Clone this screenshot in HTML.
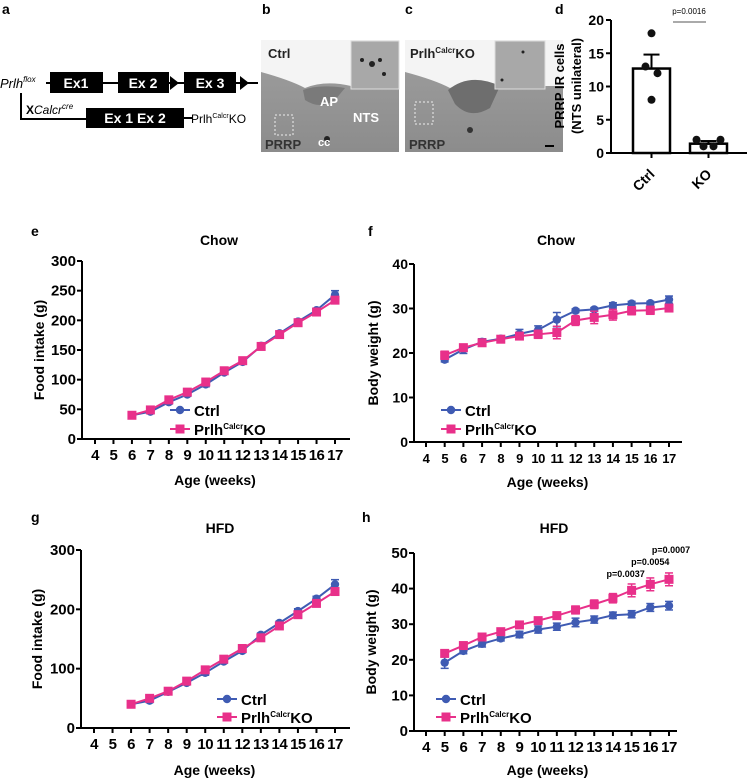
<!DOCTYPE html>
<html><head><meta charset="utf-8"><style>
html,body{margin:0;padding:0;background:#fff;}
svg{display:block;font-family:"Liberation Sans",Arial,sans-serif;}
</style></head><body>
<svg id="fig" width="748" height="779" viewBox="0 0 748 779" xmlns="http://www.w3.org/2000/svg">
<defs>
<linearGradient id="tis" x1="0" y1="0" x2="0" y2="1"><stop offset="0" stop-color="#9a9a9a"/><stop offset="1" stop-color="#8c8c8c"/></linearGradient>
</defs>
<g font-weight="bold" font-size="14">
<text x="2" y="14">a</text>
<text x="262" y="14">b</text>
<text x="405" y="14">c</text>
<text x="555" y="14">d</text>
<text x="31" y="236">e</text>
<text x="368" y="236">f</text>
<text x="31" y="522">g</text>
<text x="362" y="522">h</text>
</g>
<g>
<text x="0" y="88" font-size="13" font-style="italic">Prlh<tspan font-size="8" dy="-6">flox</tspan></text>
<line x1="46" y1="83" x2="258" y2="83" stroke="#000" stroke-width="2"/>
<rect x="50" y="72" width="53" height="21" fill="#000"/>
<text x="76" y="88" fill="#fff" font-size="14" font-weight="bold" text-anchor="middle">Ex1</text>
<rect x="118" y="72" width="51" height="21" fill="#000"/>
<text x="143" y="88" fill="#fff" font-size="14" font-weight="bold" text-anchor="middle">Ex 2</text>
<polygon points="170,76 179,83 170,90" fill="#000"/>
<rect x="184" y="72" width="52" height="21" fill="#000"/>
<text x="210" y="88" fill="#fff" font-size="14" font-weight="bold" text-anchor="middle">Ex 3</text>
<polygon points="240,76 249,83 240,90" fill="#000"/>
<polyline points="21,93 21,119 86,119" fill="none" stroke="#000" stroke-width="2"/>
<text x="26" y="114" font-size="12"><tspan font-weight="bold">X</tspan><tspan font-style="italic">Calcr</tspan><tspan font-style="italic" font-size="8" dy="-5">cre</tspan></text>
<rect x="86" y="108" width="98" height="20" fill="#000"/>
<text x="135" y="123" fill="#fff" font-size="14" font-weight="bold" text-anchor="middle">Ex 1  Ex 2</text>
<line x1="184" y1="118" x2="192" y2="118" stroke="#000" stroke-width="2"/>
<text x="191" y="123" font-size="12">Prlh<tspan font-size="7" dy="-5">Calcr</tspan><tspan dy="5">KO</tspan></text>
</g>
<g>
<rect x="261" y="40" width="138" height="112" fill="#f4f4f4"/>
<path d="M261,72 Q290,80 305,88 Q325,80 351,86 L399,86 L399,152 L261,152 Z" fill="url(#tis)"/>
<path d="M303,90 Q320,84 345,88 L335,100 Q320,110 305,100 Z" fill="#7a7a7a"/>
<rect x="351" y="41" width="48" height="48" fill="#a8a8a8" stroke="#ddd"/>
<g fill="#222"><circle cx="362" cy="60" r="2"/><circle cx="372" cy="64" r="3"/><circle cx="380" cy="60" r="2"/><circle cx="384" cy="74" r="2"/></g>
<rect x="275" y="115" width="18" height="20" fill="none" stroke="#eee" stroke-dasharray="2,2"/>
<circle cx="327" cy="139" r="3" fill="#222"/>
<g font-weight="bold" font-size="13">
<text x="268" y="58" fill="#222">Ctrl</text>
<text x="320" y="106" fill="#fff">AP</text>
<text x="353" y="122" fill="#fff">NTS</text>
<text x="318" y="146" fill="#fff" font-size="11">cc</text>
<text x="265" y="149" fill="#333">PRRP</text>
</g>
</g>
<g>
<rect x="405" y="40" width="158" height="112" fill="#f4f4f4"/>
<path d="M405,72 Q435,80 450,88 Q472,78 495,86 L563,86 L563,152 L405,152 Z" fill="url(#tis)"/>
<path d="M448,90 Q470,72 500,86 L490,108 Q470,120 455,104 Z" fill="#6e6e6e"/>
<rect x="495" y="41" width="50" height="48" fill="#a8a8a8" stroke="#ddd"/>
<circle cx="523" cy="52" r="1.5" fill="#222"/><circle cx="502" cy="80" r="1.5" fill="#222"/>
<rect x="415" y="102" width="18" height="22" fill="none" stroke="#eee" stroke-dasharray="2,2"/>
<circle cx="470" cy="130" r="3" fill="#333"/>
<line x1="545" y1="146" x2="554" y2="146" stroke="#000" stroke-width="2"/>
<g font-weight="bold" font-size="13">
<text x="410" y="58" fill="#222">Prlh<tspan font-size="8" dy="-5">Calcr</tspan><tspan dy="5">KO</tspan></text>
<text x="409" y="149" fill="#333">PRRP</text>
</g>
</g>
<g id="panelD"></g>
<g id="panelE"></g>
<g id="panelF"></g>
<g id="panelG"></g>
<g id="panelH"></g>
</svg>
<script>
const NS="http://www.w3.org/2000/svg";
const BLUE="#3f5bb3", PINK="#e8308a";
const dGroups=["Ctrl","KO"];
const dMeans=[12.7,1.4];
const dSem=[2.1,0.4];
const dDotsCtrl=[18,13,12,8];
const dDotsKO=[2,1,1,2];
const dTicks=[0,5,10,15,20];
const weeksFI=[6,7,8,9,10,11,12,13,14,15,16,17];
const eCtrl=[40,46,62,75,92,112,130,157,178,198,217,243];
const eCtrlErr=[3,3,3,3,4,3,3,3,3,3,3,7];
const eKO=[40,49,66,79,96,115,132,156,176,196,214,234];
const eKOErr=[3,3,3,3,3,3,3,3,3,4,4,5];
const weeksBW=[5,6,7,8,9,10,11,12,13,14,15,16,17];
const fCtrl=[18.5,20.8,22.5,23.2,24.3,25.2,27.5,29.5,29.8,30.7,31.1,31.2,32.0];
const fCtrlErr=[0.5,0.9,0.7,0.6,1.0,0.9,1.6,0.4,0.4,0.6,0.5,0.4,0.8];
const fKO=[19.5,21.2,22.3,23.1,23.8,24.2,24.6,27.3,28.0,28.6,29.5,29.6,30.1];
const fKOErr=[0.9,0.6,0.6,0.7,0.6,0.9,1.4,1.1,1.4,1.2,0.9,0.9,0.7];
const gCtrl=[40,46,61,76,93,112,130,157,177,197,218,242];
const gCtrlErr=[3,3,3,3,4,3,3,3,3,4,4,8];
const gKO=[40,50,62,79,98,116,134,152,172,191,210,230];
const gKOErr=[3,3,4,4,4,4,4,4,4,4,4,5];
const hCtrl=[19.2,22.5,24.5,26.0,27.1,28.5,29.3,30.5,31.3,32.5,32.8,34.7,35.2];
const hCtrlErr=[1.6,0.8,0.9,0.7,0.9,1.0,1.0,1.2,1.0,0.9,1.0,1.1,1.2];
const hKO=[21.8,24.0,26.4,27.9,29.8,31.0,32.4,34.0,35.6,37.3,39.5,41.2,42.6];
const hKOErr=[0.6,0.7,0.8,0.7,0.8,0.9,1.0,1.1,1.2,1.3,1.8,1.8,1.8];
const hPvals=["p=0.0037","p=0.0054","p=0.0007"];
const hPweeks=[15,16,17];
const xTickWeeks=[4,5,6,7,8,9,10,11,12,13,14,15,16,17];
const fiTicksE=[0,50,100,150,200,250,300];
const fiTicksG=[0,100,200,300];
const bwTicksF=[0,10,20,30,40];
const bwTicksH=[0,10,20,30,40,50];

function mk(tag,attrs,parent){const e=document.createElementNS(NS,tag);for(const k in attrs)e.setAttribute(k,attrs[k]);if(parent)parent.appendChild(e);return e;}

(function(){
  const g=document.getElementById('panelD');
  const x0=611,yB=153,yT=20,xEnd=747;
  const y=v=>yB-(v/20)*(yB-yT);
  const centers=[651.5,708.5], bw=37;
  mk('line',{x1:x0,y1:yT,x2:x0,y2:yB+1,stroke:'#000','stroke-width':2},g);
  mk('line',{x1:x0,y1:yB,x2:xEnd,y2:yB,stroke:'#000','stroke-width':2},g);
  dTicks.forEach(t=>{
    mk('line',{x1:x0-5,y1:y(t),x2:x0,y2:y(t),stroke:'#000','stroke-width':2},g);
    const tx=mk('text',{x:x0-7,y:y(t)+5,'text-anchor':'end','font-size':14,'font-weight':'bold'},g);tx.textContent=t;
    
    
  });
  dGroups.forEach((n,i)=>{
    const cx=centers[i];
    const r=mk('rect',{x:cx-bw/2,y:y(dMeans[i]),width:bw,height:yB-y(dMeans[i]),fill:'#fff',stroke:'#000','stroke-width':2.5},g);
    
    
    mk('line',{x1:cx,y1:y(dMeans[i]),x2:cx,y2:y(dMeans[i]+dSem[i]),stroke:'#000','stroke-width':2},g);
    mk('line',{x1:cx-8,y1:y(dMeans[i]+dSem[i]),x2:cx+8,y2:y(dMeans[i]+dSem[i]),stroke:'#000','stroke-width':2},g);
    mk('line',{x1:cx,y1:yB,x2:cx,y2:yB+5,stroke:'#000','stroke-width':2},g);
    const lt=mk('text',{x:cx+4,y:yB+22,'text-anchor':'end','font-size':14,'font-weight':'bold',transform:`rotate(-45 ${cx+4} ${yB+22})`},g);
    lt.textContent=n;
    
    
    const dots=i===0?dDotsCtrl:dDotsKO;
    const offsKO=[-12,-5,5,12];
    dots.forEach((v,j)=>{
      const c=mk('circle',{cx:cx+(i===0?[0,-6,6,0][j]:offsKO[j]),cy:y(v),r:4,fill:'#111'},g);
      
      
    });
  });
  mk('line',{x1:673,y1:22,x2:706,y2:22,stroke:'#555','stroke-width':1},g);
  const p=mk('text',{x:689,y:14,'text-anchor':'middle','font-size':8},g);p.textContent='p=0.0016';
  
  
  const t=mk('text',{transform:'translate(564,86) rotate(-90)','text-anchor':'middle','font-size':13,'font-weight':'bold'},g);
  t.textContent='PRRP IR cells';
  
  
  const t2=mk('text',{transform:'translate(581,86) rotate(-90)','text-anchor':'middle','font-size':13,'font-weight':'bold'},g);
  t2.textContent='(NTS unilateral)';
  
  
})();

function lineChart(id,o){
  const g=document.getElementById(id);
  const xs=w=>o.w4+(w-4)*(o.w17-o.w4)/13;
  const ys=v=>o.yB-(v/o.ymax)*(o.yB-o.yT);
  mk('line',{x1:o.ax,y1:o.yT,x2:o.ax,y2:o.yB+1,stroke:'#000','stroke-width':2},g);
  mk('line',{x1:o.ax,y1:o.yB,x2:o.xEnd,y2:o.yB,stroke:'#000','stroke-width':2},g);
  o.yTicks.forEach(t=>{
    mk('line',{x1:o.ax-5,y1:ys(t),x2:o.ax,y2:ys(t),stroke:'#000','stroke-width':2},g);
    const tx=mk('text',{x:o.ax-6,y:ys(t)+5,'text-anchor':'end','font-size':o.tfs,'font-weight':'bold'},g);tx.textContent=t;
    
    
  });
  xTickWeeks.forEach(w=>{
    mk('line',{x1:xs(w),y1:o.yB,x2:xs(w),y2:o.yB+5,stroke:'#000','stroke-width':2},g);
    const tx=mk('text',{x:xs(w),y:o.yB+21,'text-anchor':'middle','font-size':o.xfs,'font-weight':'bold','letter-spacing':'-0.5'},g);tx.textContent=w;
    
    
  });
  const tt=mk('text',{x:o.titleX,y:o.titleY,'text-anchor':'middle','font-size':14,'font-weight':'bold'},g);tt.textContent=o.title;
  
  
  const xt=mk('text',{x:(o.w4+o.w17)/2,y:o.xTitleY,'text-anchor':'middle','font-size':14,'font-weight':'bold'},g);xt.textContent='Age (weeks)';
  
  
  const yt=mk('text',{transform:`translate(${o.yTitleX},${(o.yT+o.yB)/2}) rotate(-90)`,'text-anchor':'middle','font-size':14,'font-weight':'bold'},g);yt.textContent=o.yTitle;
  
  
  const series=[[o.ctrl,o.ctrlErr,BLUE,'circle','ctrl'],[o.ko,o.koErr,PINK,'square','ko']];
  series.forEach(([vals,errs,col,shape,nm])=>{
    const pts=vals.map((v,i)=>[xs(o.weeks[i]),ys(v)]);
    const pl=mk('polyline',{points:pts.map(p=>p.join(',')).join(' '),fill:'none',stroke:col,'stroke-width':2},g);
    
    
    vals.forEach((v,i)=>{
      const x=xs(o.weeks[i]);
      const y1=ys(v+errs[i]),y2=ys(v-errs[i]);
      mk('line',{x1:x,y1:y1,x2:x,y2:y2,stroke:col,'stroke-width':1.5},g);
      mk('line',{x1:x-4,y1:y1,x2:x+4,y2:y1,stroke:col,'stroke-width':1.5},g);
      mk('line',{x1:x-4,y1:y2,x2:x+4,y2:y2,stroke:col,'stroke-width':1.5},g);
      let m;
      if(shape==='circle') m=mk('circle',{cx:x,cy:ys(v),r:4.2,fill:col},g);
      else m=mk('rect',{x:x-4.5,y:ys(v)-4.5,width:9,height:9,fill:col},g);
      
      
    });
  });
  [[BLUE,'circle','Ctrl',o.legY1],[PINK,'square','KO',o.legY2]].forEach(([col,shape,lab,ly])=>{
    const lg=mk('g',{},g);
    
    
    mk('line',{x1:o.legX-10,y1:ly,x2:o.legX+10,y2:ly,stroke:col,'stroke-width':2},lg);
    if(shape==='circle') mk('circle',{cx:o.legX,cy:ly,r:4.2,fill:col},lg);
    else mk('rect',{x:o.legX-4.5,y:ly-4.5,width:9,height:9,fill:col},lg);
    const t=mk('text',{x:o.legX+14,y:ly+6,'font-size':15,'font-weight':'bold'},lg);
    if(lab==='Ctrl') t.textContent='Ctrl';
    else { t.appendChild(document.createTextNode('Prlh'));
      const s=mk('tspan',{'font-size':8,dy:-6},t);s.textContent='Calcr';
      const k=mk('tspan',{dy:6},t);k.textContent='KO'; }
  });
  if(o.pvals){
    const dx=[-6,0,2], dy=[7,13,20];
    o.pvals.forEach((p,i)=>{
      const w=o.pweeks[i];
      const k=o.weeks.indexOf(w);
      const v=o.ko[k]+o.koErr[k];
      const t=mk('text',{x:xs(w)+dx[i],y:ys(v)-dy[i],'text-anchor':'middle','font-size':9,'font-weight':'bold'},g);
      t.textContent=p;
      
      
    });
  }
}
lineChart('panelE',{ax:82,yT:261,yB:439,ymax:300,w4:95,w17:335,xEnd:350,yTicks:fiTicksE,tfs:15,xfs:15,
  weeks:weeksFI,ctrl:eCtrl,ctrlErr:eCtrlErr,ko:eKO,koErr:eKOErr,title:'Chow',titleX:219,titleY:245,
  xTitleY:485,yTitleX:44,yTitle:'Food intake (g)',legX:180,legY1:410,legY2:429});
lineChart('panelF',{ax:414,yT:264,yB:442,ymax:40,w4:426,w17:669,xEnd:682,yTicks:bwTicksF,tfs:14,xfs:13,
  weeks:weeksBW,ctrl:fCtrl,ctrlErr:fCtrlErr,ko:fKO,koErr:fKOErr,title:'Chow',titleX:556,titleY:245,
  xTitleY:487,yTitleX:378,yTitle:'Body weight (g)',legX:451,legY1:410,legY2:429});
lineChart('panelG',{ax:81,yT:550,yB:728,ymax:300,w4:94,w17:335,xEnd:350,yTicks:fiTicksG,tfs:15,xfs:15,
  weeks:weeksFI,ctrl:gCtrl,ctrlErr:gCtrlErr,ko:gKO,koErr:gKOErr,title:'HFD',titleX:220,titleY:533,
  xTitleY:775,yTitleX:42,yTitle:'Food intake (g)',legX:227,legY1:699,legY2:717});
lineChart('panelH',{ax:414,yT:553,yB:731,ymax:50,w4:426,w17:669,xEnd:677,yTicks:bwTicksH,tfs:15,xfs:15,
  weeks:weeksBW,ctrl:hCtrl,ctrlErr:hCtrlErr,ko:hKO,koErr:hKOErr,title:'HFD',titleX:554,titleY:533,
  xTitleY:775,yTitleX:376,yTitle:'Body weight (g)',legX:446,legY1:699,legY2:717,pvals:hPvals,pweeks:hPweeks});
</script>
</body></html>
